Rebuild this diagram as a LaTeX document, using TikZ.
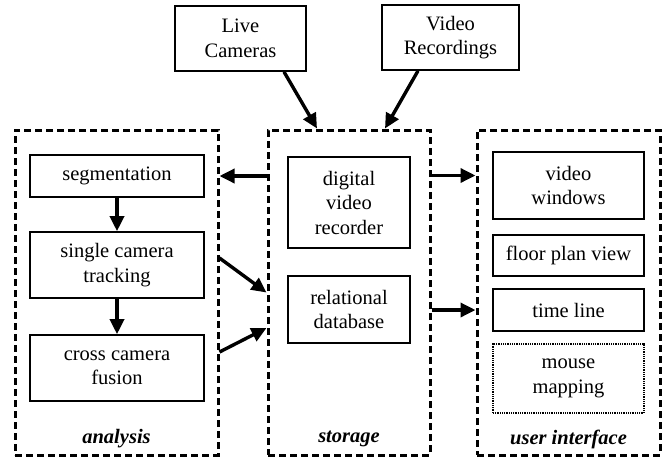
\documentclass[tikz,border=0pt]{standalone}
\usepackage{fontspec}
\setmainfont{Liberation Serif}
\usetikzlibrary{arrows.meta}

\newcommand{\boxfont}{\fontsize{20.5}{24.5}\selectfont}
\tikzset{
  part/.style={draw, line width=3pt, dash pattern=on 7pt off 4pt, inner sep=0pt},
  blk/.style={draw, line width=1.6pt, align=center, inner sep=0pt},
  dotblk/.style={blk, line width=2pt, dash pattern=on 1pt off 0.8pt},
  partname/.style={font=\boxfont\bfseries\itshape},
  flow/.style={line width=3.4pt, -{Triangle[length=15pt,width=14pt]}}
}

\begin{document}
\begin{tikzpicture}[x=1pt,y=-1pt,font=\boxfont]
  \useasboundingbox (0,0) rectangle (665,459);
  % sources
  \node[blk, minimum width=131pt, minimum height=65pt] (live) at (240.5,38.5) {Live\\Cameras};
  \node[blk, minimum width=137pt, minimum height=65pt] (rec) at (450.5,37.5) {Video\\Recordings};
  % the three parts
  \node[part, minimum width=203pt, minimum height=325pt] (analysis) at (116.5,292.5) {};
  \node[part, minimum width=162pt, minimum height=325pt] (storage) at (349,292.5) {};
  \node[part, minimum width=183pt, minimum height=325pt] (ui) at (568.5,292.5) {};
  \node[partname] (analysisname) at (116.5,439) {analysis};
  \node[partname] (storagename) at (349,439) {storage};
  \node[partname] (uiname) at (568.5,439) {user interface};
  % analysis
  \node[blk, minimum width=174pt, minimum height=42pt] (seg) at (117,176) {segmentation};
  \node[blk, minimum width=174pt, minimum height=66pt] (track) at (117,265) {single camera\\tracking};
  \node[blk, minimum width=174pt, minimum height=66pt] (fuse) at (117,368) {cross camera\\fusion};
  % storage
  \node[blk, minimum width=122pt, minimum height=91pt] (dvr) at (349,202.5) {digital\\video\\recorder};
  \node[blk, minimum width=122pt, minimum height=67pt] (db) at (349,309.5) {relational\\database};
  % user interface
  \node[blk, minimum width=151pt, minimum height=67pt] (vw) at (568.5,185.5) {video\\windows};
  \node[blk, minimum width=151pt, minimum height=41pt] (fpv) at (568.5,255.5) {floor plan view};
  \node[blk, minimum width=151pt, minimum height=42pt] (tl) at (568.5,310) {time line};
  \node[dotblk, minimum width=151pt, minimum height=69pt] (mm) at (568.5,378.5) {mouse\\mapping};
  % connections
  \draw[flow] ([xshift=43.5pt]live.south) -- ([xshift=-32pt]storage.north);
  \draw[flow] ([xshift=-32.5pt]rec.south) -- ([xshift=36pt]storage.north);
  \draw[flow] (seg) -- (track);
  \draw[flow] (track) -- (fuse);
  \draw[flow] (storage.west |- seg) -- (analysis.east |- seg);
  \draw[flow] ([yshift=34.5pt]analysis.east) -- (storage.west);
  \draw[flow] ([yshift=-59.5pt]analysis.east) -- ([yshift=-35.5pt]storage.west);
  \draw[flow] ([yshift=117pt]storage.east) -- ([yshift=117pt]ui.west);
  \draw[flow] (storage.east |- tl) -- (ui.west |- tl);
\end{tikzpicture}
\end{document}
